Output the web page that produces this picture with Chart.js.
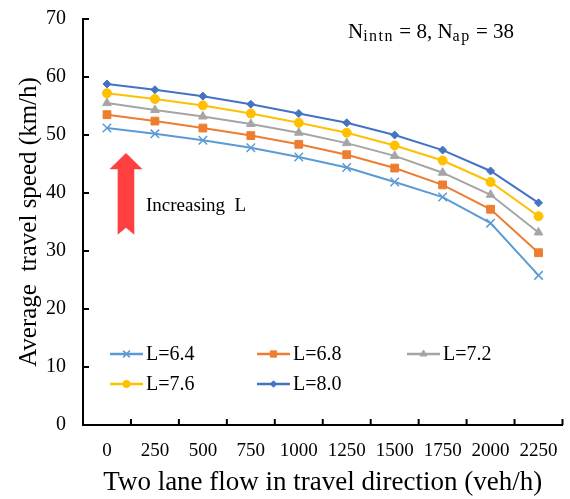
<!DOCTYPE html>
<html>
<head>
<meta charset="utf-8">
<script src="https://cdn.jsdelivr.net/npm/chart.js@4.4.0/dist/chart.umd.min.js"></script>
<style>
  body { margin: 0; background: #fff; }
  #wrap { width: 570px; height: 499px; }
</style>
</head>
<body>
<div id="wrap"><canvas id="myChart" width="570" height="499"></canvas></div>
<script>
// flow on the x axis (veh/h)
const flowLabels = ['0', '250', '500', '750', '1000', '1250', '1500', '1750', '2000', '2250']

// average travel speed (km/h) for each L
const speedL64 = [51.2, 50.2, 49.1, 47.8, 46.2, 44.4, 41.9, 39.3, 34.8, 25.8]
const speedL68 = [53.5, 52.4, 51.2, 49.9, 48.4, 46.6, 44.3, 41.4, 37.2, 29.7]
const speedL72 = [55.5, 54.3, 53.2, 51.9, 50.4, 48.6, 46.4, 43.5, 39.7, 33.2]
const speedL76 = [57.2, 56.2, 55.1, 53.7, 52.1, 50.4, 48.2, 45.6, 41.9, 36.0]
const speedL80 = [58.8, 57.8, 56.7, 55.3, 53.7, 52.1, 50.0, 47.4, 43.8, 38.3]

const seriesNames = ['L=6.4', 'L=6.8', 'L=7.2', 'L=7.6', 'L=8.0']
const seriesColors = ['#5B9BD5', '#ED7D31', '#A5A5A5', '#FFC000', '#4472C4']
const seriesMarkers = ['crossRot', 'rect', 'triangle', 'circle', 'rectRot']
const markerSizes = [6, 5.5, 5, 4.5, 4]
const seriesData = [speedL64, speedL68, speedL72, speedL76, speedL80]

const serif = "'Liberation Serif', 'Times New Roman', serif"

const datasets = seriesData.map((d, i) => ({
    label: seriesNames[i],
    data: d,
    borderColor: seriesColors[i],
    backgroundColor: seriesColors[i],
    pointBackgroundColor: seriesColors[i],
    pointBorderColor: seriesColors[i],
    pointStyle: seriesMarkers[i],
    pointRadius: markerSizes[i],
    pointBorderWidth: seriesMarkers[i] === 'crossRot' ? 1.5 : 1,
    borderWidth: 2,
    tension: 0
}))

// small tick marks pointing into the plot, x ticks sit between categories
const innerTicks = {
    id: 'innerTicks',
    afterDraw(chart) {
        const c = chart.ctx
        const ys = chart.scales.y
        const area = chart.chartArea
        c.save()
        c.strokeStyle = '#000'
        c.lineWidth = 2
        c.beginPath()
        ys.ticks.forEach(t => {
            const y = ys.getPixelForValue(t.value)
            c.moveTo(area.left, y)
            c.lineTo(area.left + 6, y)
        })
        const step = (area.right - area.left) / flowLabels.length
        for (let i = 1; i <= flowLabels.length; i++) {
            const x = area.left + step * i
            c.moveTo(x, area.bottom)
            c.lineTo(x, area.bottom - 6)
        }
        c.stroke()
        c.restore()
    }
}

// legend drawn inside the plot, three items per row
const innerLegend = {
    id: 'innerLegend',
    afterDraw(chart) {
        const c = chart.ctx
        const area = chart.chartArea
        const colX = [27, 174, 324]
        const rowY = [area.bottom - 71, area.bottom - 41]
        c.save()
        c.font = '20px ' + serif
        c.textBaseline = 'middle'
        seriesNames.forEach((name, i) => {
            const x0 = area.left + colX[i % 3]
            const y = rowY[Math.floor(i / 3)]
            c.strokeStyle = seriesColors[i]
            c.fillStyle = seriesColors[i]
            c.lineWidth = 2.5
            c.beginPath()
            c.moveTo(x0, y)
            c.lineTo(x0 + 33, y)
            c.stroke()
            c.lineWidth = seriesMarkers[i] === 'crossRot' ? 1.5 : 1
            Chart.helpers.drawPoint(c, {
                pointStyle: seriesMarkers[i],
                radius: markerSizes[i] * 0.8,
                rotation: 0,
                borderWidth: c.lineWidth
            }, x0 + 16.5, y)
            c.fillStyle = '#000'
            c.fillText(name, x0 + 36, y + 1)
        })
        c.restore()
    }
}

// red arrow with the "Increasing L" note, and the N values in the corner
const notes = {
    id: 'notes',
    afterDraw(chart) {
        const c = chart.ctx
        const xs = chart.scales.x, ys = chart.scales.y
        const area = chart.chartArea
        const cx = xs.getPixelForValue(0) + 19
        const tip = ys.getPixelForValue(46.9)
        const neck = ys.getPixelForValue(44.1)
        const tail = ys.getPixelForValue(32.8)
        const notch = ys.getPixelForValue(34.0)
        c.save()
        c.fillStyle = '#FF4040'
        c.beginPath()
        c.moveTo(cx, tip)
        c.lineTo(cx + 16.5, neck)
        c.lineTo(cx + 8.3, neck)
        c.lineTo(cx + 8.3, tail)
        c.lineTo(cx, notch)
        c.lineTo(cx - 8.3, tail)
        c.lineTo(cx - 8.3, neck)
        c.lineTo(cx - 16.5, neck)
        c.closePath()
        c.fill()

        c.fillStyle = '#000'
        c.textBaseline = 'alphabetic'
        c.font = '19px ' + serif
        c.fillText('Increasing  L', cx + 20, ys.getPixelForValue(36.9))

        // N_intn = 8, N_ap = 38
        let x = area.left + 265
        const base = area.top + 18.5
        const parts = [['N', 0], ['intn', 1], [' = 8, N', 0], ['ap', 1], [' = 38', 0]]
        parts.forEach(([txt, sub]) => {
            c.font = (sub ? '16px ' : '21px ') + serif
            c.letterSpacing = sub ? '1.5px' : '0px'
            c.fillText(txt, x, base + (sub ? 3.5 : 0))
            x += c.measureText(txt).width
        })
        c.letterSpacing = '0px'
        c.restore()
    }
}

const ctx = document.getElementById('myChart')

const myChart = new Chart(ctx, {
    type: 'line',
    data: {
        labels: flowLabels,
        datasets: datasets
    },
    options: {
        responsive: false,
        animation: false,
        layout: { padding: { top: 19, right: 6, left: 0, bottom: 0 } },
        plugins: {
            legend: { display: false },
            tooltip: { enabled: false }
        },
        scales: {
            x: {
                offset: true,
                grid: { display: false, drawTicks: false },
                border: { display: true, color: '#000', width: 2 },
                ticks: {
                    color: '#000',
                    padding: 15,
                    maxRotation: 0,
                    autoSkip: false,
                    font: { family: serif, size: 19 }
                },
                title: {
                    display: true,
                    text: 'Two lane flow in travel direction (veh/h)',
                    color: '#000',
                    padding: { top: 0, bottom: 0 },
                    font: { family: serif, size: 27 }
                },
                afterFit(scale) {
                    scale.height = 74
                    scale.paddingLeft = 0
                    scale.paddingRight = 0
                }
            },
            y: {
                min: 0,
                max: 70,
                grid: { display: false, drawTicks: false },
                border: { display: true, color: '#000', width: 2 },
                ticks: {
                    stepSize: 10,
                    color: '#000',
                    padding: 17,
                    font: { family: serif, size: 20 }
                },
                title: {
                    display: true,
                    text: 'Average  travel speed (km/h)',
                    color: '#000',
                    padding: { top: 14, bottom: 0 },
                    font: { family: serif, size: 25 }
                },
                afterFit(scale) {
                    scale.width = 83
                    scale.paddingTop = 0
                    scale.paddingBottom = 0
                }
            }
        }
    },
    plugins: [innerTicks, innerLegend, notes]
})
</script>
</body>
</html>
